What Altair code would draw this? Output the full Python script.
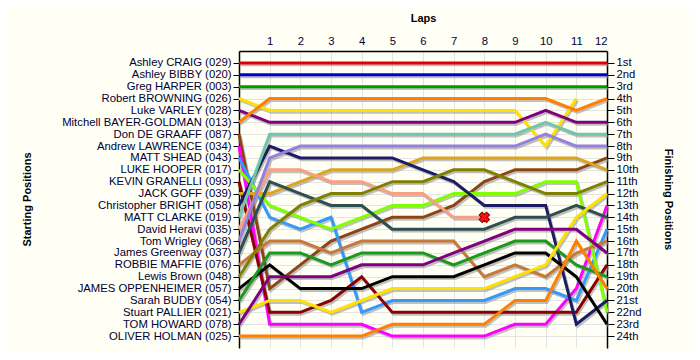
import json
import altair as alt
import pandas as pd

laps = [0, 1, 2, 3, 4, 5, 6, 7, 8, 9, 10, 11, 12]

start_labels = [
    "Ashley CRAIG (029)", "Ashley BIBBY (020)", "Greg HARPER (003)",
    "Robert BROWNING (026)", "Luke VARLEY (028)", "Mitchell BAYER-GOLDMAN (013)",
    "Don DE GRAAFF (087)", "Andrew LAWRENCE (034)", "MATT SHEAD (043)",
    "LUKE HOOPER (017)", "KEVIN GRANELLI (093)", "JACK GOFF (039)",
    "Christopher BRIGHT (058)", "MATT CLARKE (019)", "David Heravi (035)",
    "Tom Wrigley (068)", "James Greenway (037)", "ROBBIE MAFFIE (076)",
    "Lewis Brown (048)", "JAMES OPPENHEIMER (057)", "Sarah BUDBY (054)",
    "Stuart PALLIER (021)", "TOM HOWARD (078)", "OLIVER HOLMAN (025)",
]

finish_labels = [
    "1st", "2nd", "3rd", "4th", "5th", "6th", "7th", "8th", "9th", "10th",
    "11th", "12th", "13th", "14th", "15th", "16th", "17th", "18th", "19th",
    "20th", "21st", "22nd", "23rd", "24th",
]

line_colors = [
    "#e00000", "#0000d0", "#009a00", "#ffe000", "#800080", "#ff8000",
    "#8b4513", "#ff00ff", "#3399ff", "#80ff00", "#8b0000", "#daa520",
    "#1c1c64", "#70c8a8", "#f8a080", "#9680dc", "#2f4f4f", "#c87838",
    "#808000", "#000000", "#1a9a1a", "#ffe000", "#800080", "#ff8000",
]

# position at each lap (lap 0 = grid), None = not running
positions = [
    [1, 1, 1, 1, 1, 1, 1, 1, 1, 1, 1, 1, 1],
    [2, 2, 2, 2, 2, 2, 2, 2, 2, 2, 2, 2, 2],
    [3, 3, 3, 3, 3, 3, 3, 3, 3, 3, 3, 3, 3],
    [4, 5, 5, 5, 5, 5, 5, 5, 5, 5, 8, 4, None],
    [5, 6, 6, 6, 6, 6, 6, 6, 6, 6, 5, 6, 6],
    [6, 4, 4, 4, 4, 4, 4, 4, 4, 4, 4, 5, 4],
    [7, 20, 18, 16, 15, 14, 14, 13, 11, 10, 10, 10, 9],
    [8, 23, 23, 23, 23, 24, 24, 24, 24, 23, 23, 20, 13],
    [9, 14, 15, 14, 22, 21, 21, 21, 21, 20, 20, 21, 15],
    [10, 13, 14, 15, 14, 13, 13, 12, 12, 12, 11, 11, 22],
    [11, 22, 22, 21, 19, 22, 22, 22, 22, 22, 22, 22, 18],
    [12, 12, 11, 10, 10, 10, 9, 9, 9, 9, 9, 9, 10],
    [13, 8, 9, 9, 9, 9, 10, 11, 13, 13, 13, 23, 21],
    [14, 7, 7, 7, 7, 7, 7, 7, 7, 7, 6, 7, 7],
    [15, 10, 10, 11, 11, 12, 12, 14, 14, None, None, None, None],
    [16, 9, 8, 8, 8, 8, 8, 8, 8, 8, 7, 8, 8],
    [17, 11, 12, 13, 13, 15, 15, 15, 15, 14, 14, 13, 14],
    [18, 16, 16, 17, 16, 16, 16, 16, 19, 18, 19, 17, 16],
    [19, 15, 13, 12, 12, 11, 11, 10, 10, 11, 12, 12, 11],
    [20, 18, 20, 20, 20, 19, 19, 19, 18, 17, 17, 19, 23],
    [21, 17, 17, 18, 17, 17, 17, 18, 17, 16, 16, 18, 19],
    [22, 21, 21, 22, 21, 20, 20, 20, 20, 19, 18, 14, 12],
    [23, 19, 19, 19, 18, 18, 18, 17, 16, 15, 15, 15, 17],
    [24, 24, 24, 24, 24, 23, 23, 23, 23, 21, 21, 16, 20],
]

# retirement marker: driver and lap
retired_driver = "David Heravi (035)"
retired_lap = 8

rows = []
for name, series in zip(start_labels, positions):
    for lap, p in zip(laps, series):
        if p is not None:
            rows.append({"driver": name, "lap": lap, "pos": p})
df = pd.DataFrame(rows)
df_x = df[(df.driver == retired_driver) & (df.lap == retired_lap)]

FONT = "Liberation Sans"
LABEL_COLOR = "#000033"
FS = 11.3
y_scale = alt.Scale(domain=[0, 25], reverse=True, nice=False, zero=False)
x_scale = alt.Scale(domain=[0, 12], nice=False, zero=False)

x_axis = alt.Axis(
    orient="top", values=laps[1:], title="Laps", grid=True, gridColor="#e4e4e4",
    ticks=False, labelPadding=5, labelFont=FONT, labelFontSize=FS, labelOverlap=False,
    labelColor=LABEL_COLOR, titleFont=FONT, titleFontSize=11, titleFontWeight="bold",
    titleColor="#000000",
    titleX=184, titleY=-33, titleBaseline="middle", titleAlign="center",
    domainColor="#000000", domainWidth=1.5,
)
left_axis = alt.Axis(
    orient="left", values=list(range(1, 25)), title="Starting Positions",
    labelExpr=json.dumps(start_labels) + "[datum.value - 1]", labelOverlap=False,
    grid=True, gridColor="#e4e4e4", tickSize=6, tickColor="#000000",
    labelFont=FONT, labelFontSize=FS, labelColor=LABEL_COLOR, labelPadding=2,
    titleFont=FONT, titleFontSize=11, titleFontWeight="bold", titleColor="#000000",
    titleX=-212, titleY=148, titleAngle=270, titleAlign="center", titleBaseline="middle",
    domainColor="#000000", domainWidth=1.5,
)
right_axis = alt.Axis(
    orient="right", values=list(range(1, 25)), title="Finishing Positions",
    labelExpr=json.dumps(finish_labels) + "[datum.value - 1]", labelOverlap=False,
    grid=False, tickSize=7, tickColor="#000000",
    labelFont=FONT, labelFontSize=FS, labelColor=LABEL_COLOR, labelPadding=2,
    titleFont=FONT, titleFontSize=11, titleFontWeight="bold", titleColor="#000000",
    titleX=60, titleY=148, titleAngle=90, titleAlign="center", titleBaseline="middle",
    domainColor="#000000", domainWidth=1.5,
)

color = alt.Color("driver:N", scale=alt.Scale(domain=start_labels, range=line_colors), legend=None)

shadow = alt.Chart(df).transform_calculate(
    sl="datum.lap + 0.045", sp="datum.pos + 0.16"
).mark_line(strokeWidth=3, color="#8c8c8c", opacity=0.55).encode(
    x=alt.X("sl:Q", scale=x_scale, axis=x_axis),
    y=alt.Y("sp:Q", scale=y_scale, axis=None),
    detail="driver:N",
    order="lap:Q",
)

lines = alt.Chart(df).mark_line(strokeWidth=3).encode(
    x=alt.X("lap:Q", scale=x_scale, axis=x_axis),
    y=alt.Y("pos:Q", scale=y_scale, axis=left_axis),
    color=color,
    detail="driver:N",
    order="lap:Q",
)

right = alt.Chart(df).mark_point(opacity=0).encode(
    x=alt.X("lap:Q", scale=x_scale, axis=x_axis),
    y=alt.Y("pos:Q", scale=y_scale, axis=right_axis),
)

marker = alt.Chart(df_x).mark_point(
    shape="cross", angle=45, filled=True, size=110, fill="#ff1010",
    stroke="#800000", strokeWidth=1, opacity=1,
).encode(
    x=alt.X("lap:Q", scale=x_scale, axis=x_axis),
    y=alt.Y("pos:Q", scale=y_scale, axis=None),
)

chart = alt.layer(shadow, lines, right, marker).resolve_axis(y="independent").properties(
    width=368, height=297,
    autosize=alt.AutoSizeParams(type="none"),
    padding={"left": 231, "top": 43, "right": 85, "bottom": 5},
    background="#fffff6",
).configure_view(stroke=None)

chart.save("out.html", embed_options={"renderer": "svg", "actions": False})
